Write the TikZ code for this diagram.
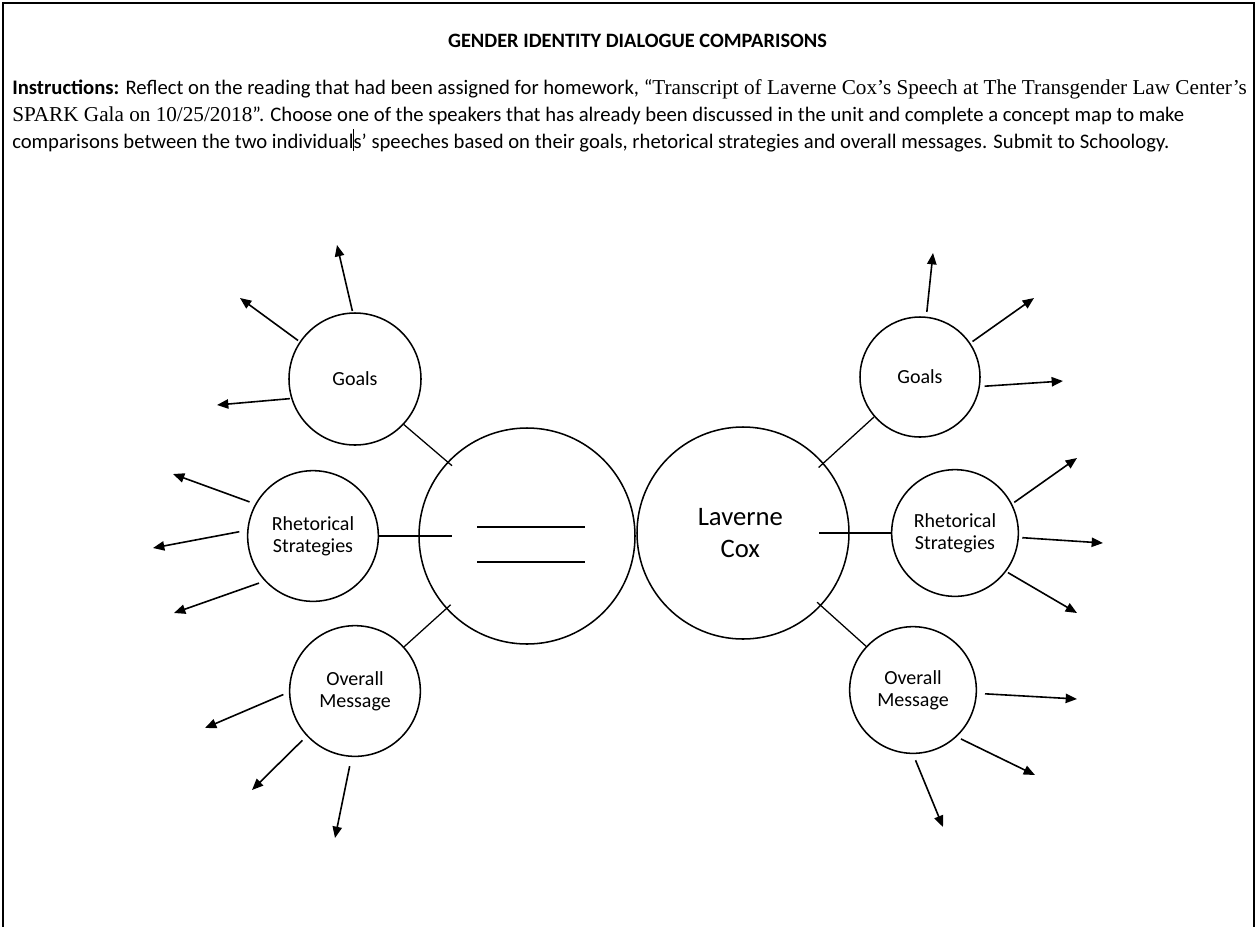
\documentclass[tikz,border=0pt]{standalone}
\usepackage{fontspec}
\setmainfont{Carlito}
\newfontfamily\tnr{Liberation Serif}
\newcommand{\tnrtext}[1]{{\tnr\fontsize{15.9}{18}\selectfont #1}}
\usetikzlibrary{arrows.meta,calc}
\begin{document}
\begin{tikzpicture}[x=0.75pt,y=-0.75pt,
  frame/.style={line width=1.2pt},
  bubble/.style={circle,draw,line width=1.15pt,inner sep=0pt,align=center,
    font=\fontsize{15}{16.5}\selectfont},
  arr/.style={line width=1.2pt,-{Triangle[length=8.5pt,width=7pt]}},
  conn/.style={line width=0.95pt},
  txt/.style={anchor=base west,inner sep=0pt,font=\fontsize{15.5}{18}\selectfont}]
\useasboundingbox (0,0) rectangle (1258,926);
\draw[frame] (3,930) -- (3,3) -- (1254,3) -- (1254,930);

% texts
\node[inner sep=0pt,font=\bfseries\fontsize{15.3}{18}\selectfont] (title) at (637.5,41) {GENDER IDENTITY DIALOGUE COMPARISONS};
\node[txt] (l1) at (12,94) {\textbf{Instructions:} Reflect on the reading that had been assigned for homework, “\tnrtext{Transcript of Laverne Cox’s Speech at The Transgender Law Center’s}};
\node[txt] (l2) at (12,121) {\tnrtext{SPARK Gala on 10/25/2018}”. Choose one of the speakers that has already been discussed in the unit and complete a concept map to make};
\node[txt] (l3) at (12,148) {comparisons between the two individual\rlap{\kern-0.3pt\rule[-0.15em]{0.6pt}{1.05em}}s’ speeches based on their goals, rhetorical strategies and overall messages. Submit to Schoology.};

% central circles
\node[bubble,minimum size=162pt] (bigL) at (527,536) {};
\node[bubble,minimum size=159pt,font=\fontsize{20}{24.75}\selectfont] (bigR) at (743,533) {\kern-4pt Laverne\\[-0.5pt]\kern-4pt Cox};
\draw[conn] (477,527) -- (585,527);
\draw[conn] (477,562) -- (585,562);

% satellite circles
\node[bubble,minimum size=99pt] (gL) at (355,379) {Goals};
\node[bubble,minimum size=98pt] (rL) at (313,536) {Rhetorical\\Strategies};
\node[bubble,minimum size=98pt] (oL) at (355,691) {Overall\\Message};
\node[bubble,minimum size=90pt] (gR) at (920,377) {Goals};
\node[bubble,minimum size=95pt] (rR) at (955,533) {Rhetorical\\Strategies};
\node[bubble,minimum size=95pt] (oR) at (913,690) {Overall\\Message};

% connectors
\draw[conn,shorten >=-4.5pt] (gL.317) -- (bigL.137.4);
\draw[conn,shorten >=-25pt] (rL.east) -- (bigL.west);
\draw[conn,shorten >=-4.5pt] (oL.42) -- (bigL.222.6);
\draw[conn,shorten <=-5pt] (bigR.41.7) -- (gR.221.7);
\draw[conn,shorten <=-23pt] (bigR.east) -- (rR.west);
\draw[conn,shorten <=-4pt] (bigR.317) -- (oR.137.5);

% arrow ends
\coordinate (gL1) at (337,245);
\coordinate (gL2) at (240,298);
\coordinate (gL3) at (217,405);
\coordinate (rL1) at (173,474);
\coordinate (rL2) at (153,548);
\coordinate (rL3) at (174,613);
\coordinate (oL1) at (205,728);
\coordinate (oL2) at (252,790);
\coordinate (oL3) at (335,838);
\coordinate (gR1) at (933,253);
\coordinate (gR2) at (1034,298);
\coordinate (gR3) at (1063,381);
\coordinate (rR1) at (1077,458);
\coordinate (rR2) at (1103,543);
\coordinate (rR3) at (1077,613);
\coordinate (oR1) at (1077,699);
\coordinate (oR2) at (1035,775);
\coordinate (oR3) at (943,827);

% arrows
\draw[arr,shorten <=1pt] (gL.92.5) -- (gL1);
\draw[arr,shorten <=1.5pt] (gL.146.8) -- (gL2);
\draw[arr,shorten <=1pt] (gL.197) -- (gL3);
\draw[arr,shorten <=4.5pt] (rL.151.6) -- (rL1);
\draw[arr,shorten <=6pt] (rL.175.4) -- (rL2);
\draw[arr,shorten <=4.5pt] (rL.223.9) -- (rL3);
\draw[arr,shorten <=4.5pt] (oL.181.6) -- (oL1);
\draw[arr,shorten <=4.5pt] (oL.223.3) -- (oL2);
\draw[arr,shorten <=7pt] (oL.267) -- (oL3);
\draw[arr,shorten <=3.5pt] (gR.84.7) -- (gR1);
\draw[arr,shorten <=2pt] (gR.34.7) -- (gR2);
\draw[arr,shorten <=3.5pt] (gR.351.1) -- (gR3);
\draw[arr,shorten <=2pt] (rR.27.7) -- (rR1);
\draw[arr,shorten <=2.5pt] (rR.356.6) -- (rR2);
\draw[arr,shorten <=1.5pt] (rR.323) -- (rR3);
\draw[arr,shorten <=6pt] (oR.357.6) -- (oR1);
\draw[arr,shorten <=3.5pt] (oR.313.8) -- (oR2);
\draw[arr,shorten <=5pt] (oR.270.8) -- (oR3);
\end{tikzpicture}
\end{document}
